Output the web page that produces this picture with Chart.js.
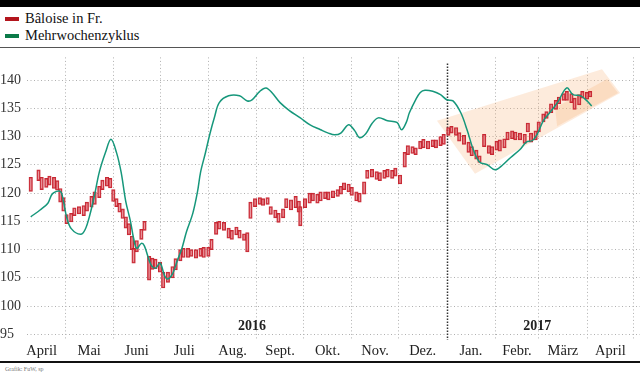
<!DOCTYPE html>
<html>
<head>
<meta charset="utf-8">
<script src="https://cdn.jsdelivr.net/npm/chart.js@4.4.0/dist/chart.umd.min.js"></script>
<style>
  body { margin: 0; width: 640px; height: 376px; overflow: hidden; background: #fff; font-family: 'Liberation Serif', serif; position: relative; }
  .abs { position: absolute; }
  #topbar { left: 0; top: 0; width: 640px; height: 7px; background: #000; }
  .sw { left: 5px; width: 14px; height: 4px; }
  .lg { left: 25px; font-size: 14.5px; line-height: 18px; color: #111; }
  #sep { left: 0; top: 47px; width: 640px; height: 1px; background: #555; }
  #wrap { left: 0; top: 49px; width: 640px; height: 311px; }
  #bottom { left: 0; top: 361px; width: 640px; height: 2px; background: #111; }
  #credit { left: 5px; top: 366px; font-size: 6px; color: #777; }
</style>
</head>
<body>
<div id="topbar" class="abs"></div>
<div class="abs sw" style="top:17px;background:#b3151d"></div>
<div class="abs lg" style="top:9px">Bâloise in Fr.</div>
<div class="abs sw" style="top:34px;background:#0b7a48"></div>
<div class="abs lg" style="top:26px">Mehrwochenzyklus</div>
<div id="sep" class="abs"></div>
<div id="wrap" class="abs"><canvas id="chart" width="640" height="311"></canvas></div>
<div id="bottom" class="abs"></div>
<div id="credit" class="abs">Grafik: FuW, sp</div>
<script>
// days counted from 1 April 2016
const monthNames = ['April', 'Mai', 'Juni', 'Juli', 'Aug.', 'Sept.', 'Okt.', 'Nov.', 'Dez.', 'Jan.', 'Febr.', 'März', 'April'];
const monthStarts = [0, 30, 61, 91, 122, 153, 183, 214, 244, 275, 306, 334, 365, 395];
const yTicks = [95, 100, 105, 110, 115, 120, 125, 130, 135, 140];

// Bâloise price, daily range (low / high)
const priceDay = [8, 13, 15, 18, 20, 23, 25, 27, 29, 31, 34, 36, 39, 42, 44, 47, 49, 52, 54, 57,
  59, 61, 63, 65, 67, 69, 71, 73, 74, 76, 79, 81, 84, 86, 88, 91, 93, 96, 99, 101,
  104, 106, 109, 111, 114, 117, 119, 122, 124, 127, 129, 132, 135, 137, 140, 142, 145, 147, 149, 152,
  155, 157, 160, 162, 165, 167, 170, 172, 175, 178, 180, 181, 184, 187, 189, 192, 194, 197, 199, 202,
  205, 207, 209, 212, 214, 217, 219, 222, 224, 227, 230, 232, 235, 237, 240, 242, 245, 248, 250, 253,
  255, 258, 260, 263, 266, 268, 271, 273, 276, 278, 281, 283, 286, 289, 291, 294, 296, 299, 302, 304,
  307, 309, 312, 314, 317, 319, 322, 325, 327, 329, 332, 334, 337, 339, 342, 345, 347, 350, 352, 355,
  357, 360, 362, 365, 367];
const priceLow = [120.3, 122.2, 120.6, 121.0, 121.4, 120.8, 120.5, 118.4, 116.8, 114.6, 114.9, 116.0, 116.3, 116.0, 116.8, 117.5, 118.0, 119.2, 120.6, 121.2,
  120.9, 118.5, 117.6, 116.6, 115.5, 113.8, 112.6, 110.0, 107.6, 109.6, 111.8, 113.4, 104.6, 106.5, 106.6, 106.0, 103.2, 104.2, 105.0, 106.4,
  108.0, 108.6, 108.6, 108.8, 108.5, 108.8, 108.6, 108.8, 110.0, 112.7, 113.6, 113.4, 112.0, 111.8, 112.6, 112.0, 111.6, 109.6, 115.5, 117.6,
  118.0, 117.8, 118.0, 116.2, 115.6, 114.8, 115.6, 117.4, 117.0, 117.4, 116.6, 114.2, 117.4, 118.2, 118.6, 118.2, 118.6, 119.0, 118.8, 119.2,
  119.4, 119.8, 120.6, 120.2, 119.6, 118.6, 118.4, 119.8, 122.6, 122.8, 122.4, 122.2, 122.6, 122.8, 122.6, 123.0, 121.6, 124.6, 126.8, 127.0,
  126.8, 127.8, 128.0, 127.8, 128.2, 128.0, 128.4, 128.6, 130.2, 130.6, 130.2, 129.2, 128.6, 127.2, 126.6, 126.0, 125.4, 128.2, 127.0, 126.8,
  127.6, 127.4, 128.0, 129.4, 129.6, 129.4, 129.4, 128.8, 130.8, 129.0, 129.4, 130.8, 132.6, 133.2, 134.2, 134.8, 135.8, 136.4, 136.4, 136.0,
  134.8, 135.6, 136.8, 136.6, 137.0];
const priceHigh = [122.8, 124.1, 122.8, 122.6, 123.0, 122.8, 122.2, 120.8, 119.2, 116.2, 116.4, 117.4, 117.6, 117.8, 118.4, 119.4, 120.2, 121.2, 122.3, 122.8,
  122.6, 120.6, 119.0, 118.2, 117.2, 115.8, 114.6, 112.4, 110.2, 111.6, 113.6, 115.0, 108.8, 108.5, 108.3, 107.8, 106.0, 106.0, 107.0, 108.4,
  110.0, 110.2, 110.2, 110.0, 110.0, 110.2, 110.4, 110.4, 111.8, 114.8, 115.0, 114.8, 113.8, 113.4, 114.0, 113.4, 112.8, 113.0, 118.4, 119.0,
  119.2, 119.0, 119.2, 117.6, 117.0, 116.4, 117.2, 119.0, 118.8, 119.4, 118.6, 117.6, 119.0, 120.0, 120.0, 119.8, 120.2, 120.2, 120.2, 120.4,
  120.6, 121.2, 121.8, 121.6, 121.0, 120.2, 120.0, 122.0, 124.0, 124.2, 123.8, 123.6, 124.0, 124.2, 124.0, 124.4, 123.2, 127.2, 128.4, 128.2,
  128.0, 129.2, 129.5, 129.2, 129.4, 129.4, 130.0, 130.4, 131.6, 131.8, 131.6, 130.7, 130.2, 129.0, 128.2, 127.6, 126.6, 130.4, 128.4, 128.2,
  129.2, 129.4, 129.6, 130.8, 131.0, 130.8, 130.6, 130.4, 132.4, 130.6, 131.0, 132.6, 134.0, 134.4, 135.8, 136.4, 137.0, 137.6, 138.0, 137.6,
  136.8, 137.4, 138.0, 137.8, 138.0];

// Mehrwochenzyklus
const cycleDay = [8, 14, 19, 22, 27, 29, 31, 34, 40, 43, 46, 49, 52, 56, 59.5, 63, 66, 69, 72, 74,
  76, 79, 81, 85, 88, 91, 94, 96, 99, 102, 105, 108, 112, 115, 117, 120, 123, 126, 129, 135,
  142, 147, 150, 155, 159, 163, 168, 174, 181, 187, 194, 199, 203, 207, 212, 216, 219, 223, 227, 231,
  237, 243, 246, 249, 251, 255, 258, 261, 266, 271, 275, 279, 284, 288, 292, 296, 301, 306, 311, 316,
  322, 326, 330, 333, 337, 341, 346, 352, 356, 361, 365, 368];
const cycleValue = [115.8, 117.0, 118.2, 119.9, 120.3, 118.5, 115.8, 113.7, 112.7, 113.6, 116.2, 119.7, 123.7, 127.2, 129.5, 127.2, 123.7, 118.5, 115.0, 112.0,
  110.2, 111.1, 110.6, 107.4, 106.7, 107.6, 105.3, 104.8, 105.7, 108.0, 110.2, 113.2, 116.4, 120.2, 123.7, 127.0, 130.5, 133.5, 136.0, 137.2,
  137.2, 136.3, 136.5, 138.0, 138.6, 137.7, 136.0, 134.6, 133.3, 132.1, 131.2, 130.6, 130.3, 130.6, 132.1, 131.0, 129.8, 130.5, 132.3, 133.3,
  132.8, 132.5, 131.2, 132.5, 134.2, 136.5, 137.8, 138.2, 138.0, 137.4, 136.5, 136.3, 134.2, 131.2, 127.7, 125.5, 125.0, 124.1, 125.0, 126.3,
  127.7, 129.0, 129.3, 130.4, 132.8, 134.2, 136.0, 138.6, 137.4, 137.2, 136.3, 135.4];

// trend channel arrows (day, value)
const channelWide = [[268.7, 132.8], [374.6, 141.9], [386.2, 137.7], [293.1, 123.4]];
const channelShort = [[344.5, 135.1], [377.9, 140.2], [384.9, 137.7], [345.8, 131.8]];

const monthMids = [];
const labelAt = {};
for (let i = 0; i < monthNames.length; i++) {
    const m = (monthStarts[i] + monthStarts[i + 1]) / 2;
    monthMids.push(m);
    labelAt[m] = monthNames[i];
}
const yearStart = 275;

const extras = {
    id: 'extras',
    beforeDatasetsDraw(chart) {
        const c = chart.ctx, x = chart.scales.x, y = chart.scales.y, a = chart.chartArea;
        c.save();
        // channel arrows
        [channelWide, channelShort].forEach(poly => {
            c.beginPath();
            poly.forEach((p, i) => {
                const px = x.getPixelForValue(p[0]), py = y.getPixelForValue(p[1]);
                if (i === 0) c.moveTo(px, py); else c.lineTo(px, py);
            });
            c.closePath();
            c.fillStyle = 'rgba(245,170,110,0.24)';
            c.fill();
        });
        // year separator
        const sx = Math.round(x.getPixelForValue(yearStart)) + 0.5;
        c.strokeStyle = '#333';
        c.lineWidth = 1.5;
        c.setLineDash([1.5, 1.5]);
        c.beginPath();
        c.moveTo(sx, a.top + 6);
        c.lineTo(sx, a.bottom);
        c.stroke();
        c.setLineDash([]);
        // year labels
        c.fillStyle = '#222';
        c.font = 'bold 14px "Liberation Serif", serif';
        c.textAlign = 'center';
        c.textBaseline = 'middle';
        c.fillText('2016', x.getPixelForValue(150), y.getPixelForValue(96.4));
        c.fillText('2017', x.getPixelForValue(333), y.getPixelForValue(96.4));
        c.restore();
    }
};

new Chart(document.getElementById('chart').getContext('2d'), {
    type: 'bar',
    data: {
        datasets: [{
            type: 'bar',
            label: 'Bâloise in Fr.',
            data: priceDay.map((d, i) => ({ x: d, y: [priceLow[i], priceHigh[i]] })),
            backgroundColor: 'rgba(222,95,105,0.55)',
            borderColor: 'rgba(196,28,40,0.95)',
            borderWidth: 1,
            borderSkipped: false,
            barThickness: 3.5,
            order: 2
        }, {
            type: 'line',
            label: 'Mehrwochenzyklus',
            data: cycleDay.map((d, i) => ({ x: d, y: cycleValue[i] })),
            borderColor: '#16977b',
            borderWidth: 1.5,
            pointRadius: 0,
            tension: 0.35,
            fill: false,
            order: 1
        }]
    },
    options: {
        responsive: false,
        animation: false,
        devicePixelRatio: 1,
        layout: { padding: { top: 4, right: 0, left: 0, bottom: 0 } },
        plugins: { legend: { display: false }, tooltip: { enabled: false } },
        scales: {
            x: {
                type: 'linear',
                min: 5.6,
                max: 399,
                offset: false,
                afterBuildTicks: axis => {
                    const v = monthStarts.filter(d => d > 5.6 && d < 399).concat(monthMids);
                    v.sort((p, q) => p - q);
                    axis.ticks = v.map(t => ({ value: t }));
                },
                afterFit: axis => { axis.height = 20; },
                grid: {
                    color: ctx => (ctx.tick && monthStarts.includes(ctx.tick.value) && ctx.tick.value !== yearStart) ? '#b0b0b0' : 'transparent',
                    drawTicks: false,
                    offset: false
                },
                border: { display: false, dash: [1, 2.5] },
                ticks: {
                    autoSkip: false,
                    maxRotation: 0,
                    padding: 2,
                    color: '#222',
                    font: { family: '"Liberation Serif", serif', size: 14.5 },
                    callback: v => labelAt[v] || ''
                }
            },
            y: {
                min: 94,
                max: 144,
                afterBuildTicks: axis => { axis.ticks = yTicks.map(t => ({ value: t })); },
                afterFit: axis => { axis.width = 27; },
                grid: { color: '#b0b0b0', drawTicks: false },
                border: { display: false, dash: [1, 2.5] },
                ticks: {
                    crossAlign: 'far',
                    padding: 0,
                    color: '#333',
                    font: { family: '"Liberation Serif", serif', size: 14 }
                }
            }
        }
    },
    plugins: [extras]
});
</script>
</body>
</html>
